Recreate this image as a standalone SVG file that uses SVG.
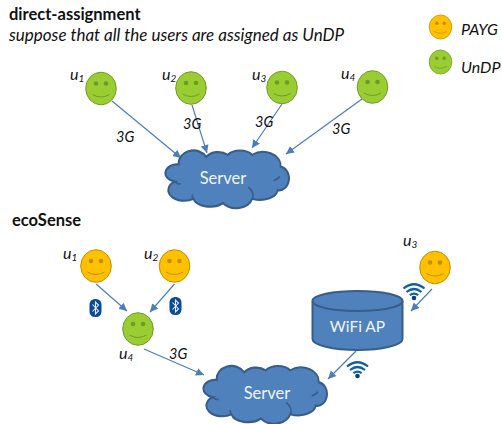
<svg xmlns="http://www.w3.org/2000/svg" width="502" height="424" viewBox="0 0 502 424">
<style>
text{font-family:"Lato","Liberation Sans",sans-serif;fill:#111}
.t{font-size:16.5px;font-weight:700}
.i{font-style:italic;font-size:17px}
.l{font-style:italic;font-size:16px}
.u{font-style:italic;font-size:16px}
.g{font-style:italic;font-size:14.5px}
.s{font-size:10px}
.w{fill:#f2f6fb;font-size:16.500px;text-anchor:middle}
.c{stroke:#4a7ebb;stroke-width:1.2;fill:none;marker-end:url(#a)}
.sh{fill:#4f81bd;stroke:#385d8a;stroke-width:2}
.in{fill:none;stroke:#385d8a;stroke-width:1.6}
</style>
<defs>
<marker id="a" markerUnits="userSpaceOnUse" markerWidth="10" markerHeight="10" refX="8" refY="4" orient="auto"><path d="M0 0L8 4L0 8Z" fill="#4a7ebb"/></marker>
<g id="face"><ellipse rx="15.3" ry="16.3"/><circle cx="-5" cy="-5" r="2.3" fill="#000" fill-opacity=".25" stroke="none"/><circle cx="5" cy="-5" r="2.3" fill="#000" fill-opacity=".25" stroke="none"/><path d="M-8.5 6Q0 11 8.5 6" fill="none" stroke-width="1"/></g>
<g id="cloud"><path class="sh" d="M9 30A10 7 0 0 1 13 14A15 12 0 0 1 41 7A14 9 0 0 1 63 5A15 9 0 0 1 88 5A18 13 0 0 1 117 16A9 10 0 0 1 114 38A18 10 0 0 1 88 46A17 12 0 0 1 58 50A17 9 0 0 1 28 46A13 8 0 0 1 9 30Z"/><path class="in" d="M9 30Q12 33 15 32M116 25Q115 27 110 29M88 46Q91 41 84 35M28 46Q26 44 27 42"/></g>
<g id="bt"><rect x="-6" y="-9" width="12" height="18" rx="5.500" fill="#0b4a9a"/><path d="M-3 -3.500L3 3L0 6V-6L3 -3L-3 3.500" fill="none" stroke="#e8f0fa" stroke-width="1.1"/></g>
<g id="wifi" fill="none" stroke="#0f5fa8" stroke-width="2.2"><path d="M-10.500 -9.500Q0 -18 10.500 -9.500"/><path d="M-7.500 -6Q0 -12 7.500 -6"/><path d="M-4.200 -2.800Q0 -6 4.200 -2.800"/><circle r="2.300" fill="#0b3f7a" stroke="none"/></g>
</defs>
<g id="titles">
<text class="t" x="9" y="20">direct-assignment</text>
<text class="i" x="9" y="41">suppose that all the users are assigned as UnDP</text>
<text class="t" x="12" y="226">ecoSense</text>
</g>
<g id="connectors">
<path class="c" d="M112 101L181 158"/>
<path class="c" d="M192 105L207 153"/>
<path class="c" d="M282 104L252 148"/>
<path class="c" d="M362 99L286 154"/>
<path class="c" d="M96 284L127 311"/>
<path class="c" d="M174.500 284L150 312"/>
<path class="c" d="M144 349L204 375"/>
<path class="c" d="M432 289L411 311"/>
<path class="c" d="M356 351L328 379"/>
</g>
<g id="legend-payg"><use href="#face" transform="translate(440.500 27) scale(.74)" fill="#ffc000" stroke="#bf9000"/><text class="l" x="461" y="35">PAYG</text></g>
<g id="legend-undp"><use href="#face" transform="translate(440.500 62) scale(.74)" fill="#9acd32" stroke="#719b2c"/><text class="l" x="461" y="73">UnDP</text></g>
<g id="d-u1"><use href="#face" transform="translate(101 88.500)" fill="#9acd32" stroke="#719b2c"/><text class="u" x="70" y="80">u<tspan class="s" dy="2">1</tspan></text></g>
<g id="d-u2"><use href="#face" transform="translate(191 88)" fill="#9acd32" stroke="#719b2c"/><text class="u" x="162" y="80">u<tspan class="s" dy="2">2</tspan></text></g>
<g id="d-u3"><use href="#face" transform="translate(282 87.500)" fill="#9acd32" stroke="#719b2c"/><text class="u" x="252" y="80">u<tspan class="s" dy="2">3</tspan></text></g>
<g id="d-u4"><use href="#face" transform="translate(372.500 87)" fill="#9acd32" stroke="#719b2c"/><text class="u" x="341" y="79">u<tspan class="s" dy="2">4</tspan></text></g>
<g id="d-labels">
<text class="g" x="116" y="142">3G</text>
<text class="g" x="183" y="129">3G</text>
<text class="g" x="255" y="127">3G</text>
<text class="g" x="332" y="134">3G</text>
</g>
<g id="d-server"><use href="#cloud" transform="translate(166 149.500) scale(.98 1.07)"/><text class="w" x="223" y="184">Server</text></g>
<g id="e-u1"><use href="#face" transform="translate(96 266)" fill="#ffc000" stroke="#bf9000"/><text class="u" x="63" y="259">u<tspan class="s" dy="2">1</tspan></text></g>
<g id="e-u2"><use href="#face" transform="translate(174.500 266)" fill="#ffc000" stroke="#bf9000"/><text class="u" x="144" y="259">u<tspan class="s" dy="2">2</tspan></text></g>
<g id="e-u4"><use href="#face" transform="translate(138 329)" fill="#9acd32" stroke="#719b2c"/><text class="u" x="119" y="359">u<tspan class="s" dy="2">4</tspan></text></g>
<g id="e-u3"><use href="#face" transform="translate(435 267.500)" fill="#ffc000" stroke="#bf9000"/><text class="u" x="403" y="246">u<tspan class="s" dy="2">3</tspan></text></g>
<text class="g" x="169" y="359">3G</text>
<use id="bt1" href="#bt" transform="translate(95.500 308)"/>
<use id="bt2" href="#bt" transform="translate(175.500 306)"/>
<use id="wifi1" href="#wifi" transform="translate(414 298)"/>
<use id="wifi2" href="#wifi" transform="translate(357.500 376)"/>
<g id="wifi-ap"><path class="sh" d="M312.500 301V339C312.500 345 333 350 357.500 350S402.500 345 402.500 339V301C402.500 295 382 291 357.500 291S312.500 295 312.500 301Z"/><path class="in" d="M312.500 301C312.500 307 333 311 357.500 311S402.500 307 402.500 301" style="stroke-width:2"/><text class="w" x="357.500" y="332" style="font-size:15.5px">WiFi AP</text></g>
<g id="e-server"><use href="#cloud" transform="translate(204 365) scale(.98 1.07)"/><text class="w" x="267" y="399">Server</text></g>
</svg>
